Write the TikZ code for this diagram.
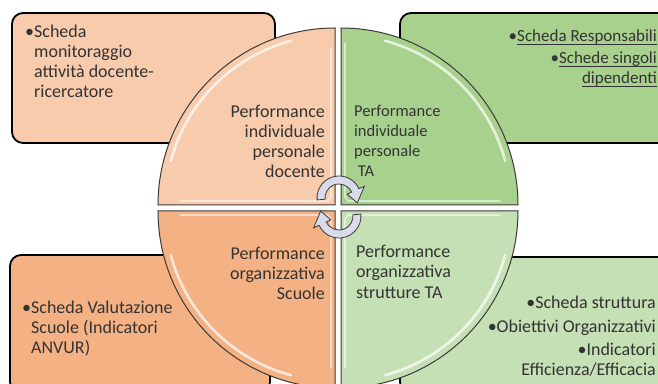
\documentclass[tikz,border=0pt]{standalone}
\usepackage{fontspec}
\setmainfont{Carlito}
\definecolor{peachL}{HTML}{F8CBAD}
\definecolor{greenD}{HTML}{A9D18E}
\definecolor{orangeM}{HTML}{F4B183}
\definecolor{greenL}{HTML}{C5E0B4}
\definecolor{arrowfill}{HTML}{D9DBEA}
\definecolor{outl}{HTML}{3A3A3A}
\newcommand{\myul}[1]{\setbox0\hbox{#1}\rlap{\rule[-2.6pt]{\wd0}{0.8pt}}\box0}
\tikzset{
  infobox/.style={draw=black, line width=1.8pt, rounded corners=11pt},
  quad/.style={draw=outl, line width=1pt},
  gloss/.style={white, line width=2.6pt, opacity=0.7, line cap=round},
  edgegloss/.style={white, line width=1.6pt, opacity=0.55, line cap=round},
  txt/.style={inner sep=0pt, text=black!80, font=\fontsize{18}{20}\selectfont},
  cyc/.pic={
    \draw[line width=0.8pt, draw=outl, fill=arrowfill]
      (185:22) arc[start angle=185, end angle=25, radius=22]
      -- (25:28) -- (-15:19) -- (25:9) -- (25:14)
      arc[start angle=25, end angle=185, radius=14] -- cycle;
  }
}
\begin{document}
\begin{tikzpicture}[x=1pt, y=1pt]
\useasboundingbox (0,0) rectangle (658,383);
\clip (0,0) rectangle (658,383);
% outer boxes
\draw[infobox, fill=peachL] (12,240) rectangle (275,370);
\draw[infobox, fill=greenD] (400,240) rectangle (690,370);
\draw[infobox, fill=orangeM] (10,-10) rectangle (270,128);
\draw[infobox, fill=greenL] (400,-10) rectangle (690,126);
% quadrants
\draw[quad, fill=peachL] (335,178) -- (158,178) arc[start angle=180, end angle=90, radius=177] -- cycle;
\draw[quad, fill=greenD] (341,178) -- (341,355) arc[start angle=90, end angle=0, radius=177] -- cycle;
\draw[quad, fill=orangeM] (335,172) -- (335,-5) arc[start angle=270, end angle=180, radius=177] -- cycle;
\draw[quad, fill=greenL] (341,172) -- (518,172) arc[start angle=0, end angle=-90, radius=177] -- cycle;
% gloss
\draw[gloss] (335,178) ++(165:170) arc[start angle=165, end angle=105, radius=170];
\draw[gloss] (341,178) ++(75:170) arc[start angle=75, end angle=15, radius=170];
\draw[gloss] (335,172) ++(255:170) arc[start angle=255, end angle=195, radius=170];
\draw[gloss] (341,172) ++(-15:170) arc[start angle=-15, end angle=-75, radius=170];
\draw[edgegloss] (180,182) -- (328,182) -- (331,186) -- (331,335);
\draw[edgegloss] (345,340) -- (345,186) -- (348,182) -- (500,182);
\draw[edgegloss] (180,168) -- (328,168) -- (331,164) -- (331,15);
\draw[edgegloss] (345,15) -- (345,164) -- (348,168) -- (500,168);
% cycle arrows
\pic at (339,185) {cyc};
\pic[rotate=180] at (339,167) {cyc};
% texts
\node[txt, anchor=base west] (tlr) at (25,345) {•\begin{tabular}[t]{@{}l@{}}Scheda\\monitoraggio\\attività docente-\\ricercatore\end{tabular}};
\node[txt, anchor=base east] (tlq) at (325,265) {\begin{tabular}[t]{@{}r@{}}Performance\\individuale\\personale\\docente\end{tabular}};
\node[txt, font=\fontsize{16.5}{20}\selectfont, anchor=base west] (trq) at (354,266) {\begin{tabular}[t]{@{}l@{}}Performance\\individuale\\personale\\\ TA\end{tabular}};
\node[txt, font=\fontsize{17}{20}\selectfont, anchor=base east] (trr) at (657,341) {\begin{tabular}[t]{@{}r@{}}•\myul{Scheda Responsabili}\\[2pt]•\myul{Schede singoli}\\\myul{dipendenti}\end{tabular}};
\node[txt, anchor=base east] (blq) at (325,124) {\begin{tabular}[t]{@{}r@{}}Performance\\organizzativa\\Scuole\end{tabular}};
\node[txt, anchor=base west] (blr) at (22,70) {•\begin{tabular}[t]{@{}l@{}}Scheda Valutazione\\Scuole (Indicatori\\ANVUR)\end{tabular}};
\node[txt, anchor=base west] (brq) at (356,125) {\begin{tabular}[t]{@{}l@{}}Performance\\organizzativa\\strutture TA\end{tabular}};
\node[txt, anchor=base east] (brr) at (656,75) {\begin{tabular}[t]{@{}r@{}}•Scheda struttura\\[4pt]•Obiettivi Organizzativi\\[3pt]•Indicatori\\Efficienza/Efficacia\end{tabular}};
\end{tikzpicture}
\end{document}
